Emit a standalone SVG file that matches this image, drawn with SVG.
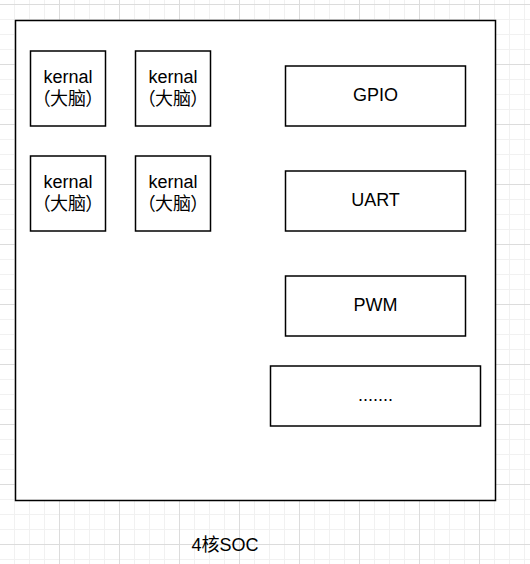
<svg xmlns="http://www.w3.org/2000/svg" width="530" height="564" viewBox="0 0 530 564">
<style>
.box{fill:#fff;stroke:#000;stroke-width:1.5}
.t{font-family:"Liberation Sans","Noto Sans CJK SC",Arial,sans-serif;font-size:18px;fill:#000;text-anchor:middle}
.cjk{font-feature-settings:"palt"}
</style>
<defs>
<pattern id="grid" patternUnits="userSpaceOnUse" x="-1" y="4" width="60" height="60">
<rect x="0" y="0" width="60" height="60" fill="#fff"/>
<g fill="#f1f1f1">
<rect x="15" y="0" width="1" height="60"/><rect x="30" y="0" width="1" height="60"/><rect x="45" y="0" width="1" height="60"/>
<rect x="0" y="15" width="60" height="1"/><rect x="0" y="30" width="60" height="1"/><rect x="0" y="45" width="60" height="1"/>
</g>
<g fill="#dcdcdc">
<rect x="0" y="0" width="1" height="60"/><rect x="0" y="0" width="60" height="1"/>
</g>
</pattern>
</defs>
<rect x="0" y="0" width="530" height="564" fill="url(#grid)"/>
<g id="soc">
<rect class="box" x="15.5" y="20.5" width="480" height="480"/>
</g>
<g id="kernal1">
<rect class="box" x="30.5" y="51" width="75" height="75"/>
<text class="t" x="68" y="83">kernal</text>
<text class="t cjk" x="68" y="104.6">（大脑）</text>
</g>
<g id="kernal2">
<rect class="box" x="135.5" y="51" width="75" height="75"/>
<text class="t" x="173" y="83">kernal</text>
<text class="t cjk" x="173" y="104.6">（大脑）</text>
</g>
<g id="kernal3">
<rect class="box" x="30.5" y="156" width="75" height="75"/>
<text class="t" x="68" y="188">kernal</text>
<text class="t cjk" x="68" y="209.6">（大脑）</text>
</g>
<g id="kernal4">
<rect class="box" x="135.5" y="156" width="75" height="75"/>
<text class="t" x="173" y="188">kernal</text>
<text class="t cjk" x="173" y="209.6">（大脑）</text>
</g>
<g id="gpio">
<rect class="box" x="285.5" y="66" width="180" height="60"/>
<text class="t" x="375.5" y="100.7">GPIO</text>
</g>
<g id="uart">
<rect class="box" x="285.5" y="171" width="180" height="60"/>
<text class="t" x="375.5" y="205.7">UART</text>
</g>
<g id="pwm">
<rect class="box" x="285.5" y="276" width="180" height="60"/>
<text class="t" x="375.5" y="310.7">PWM</text>
</g>
<g id="more">
<rect class="box" x="270.5" y="366" width="210" height="60"/>
<text class="t" x="375.5" y="400.7">.......</text>
</g>
<g id="label">
<text class="t" x="225" y="551">4核SOC</text>
</g>
<g id="connectors"/>
</svg>
